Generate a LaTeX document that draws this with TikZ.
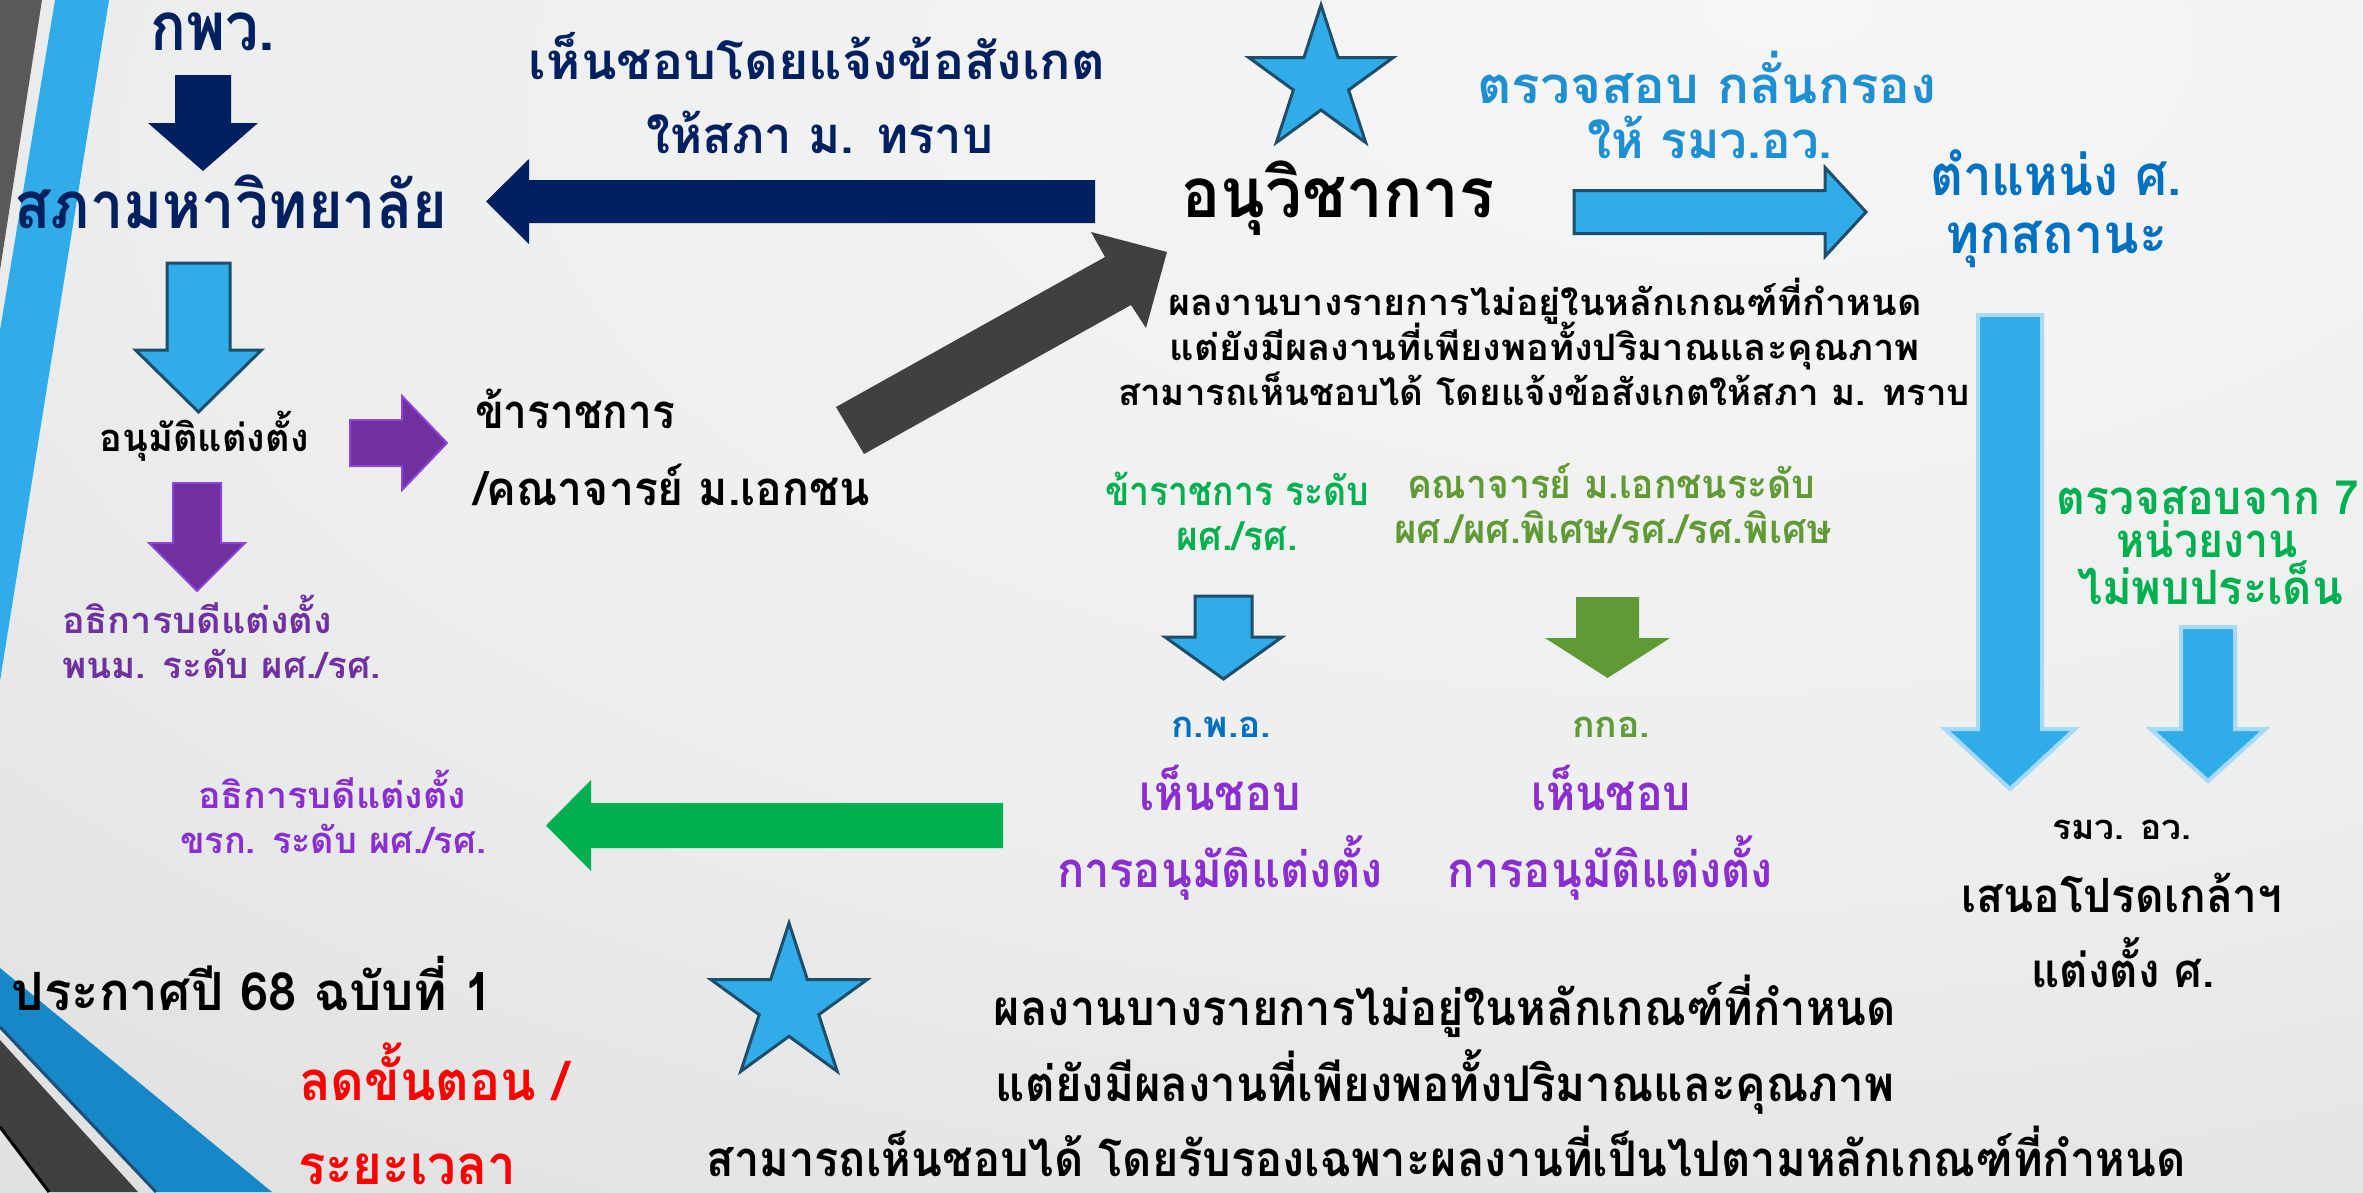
\documentclass[tikz,border=0pt]{standalone}
\usepackage{fontspec}
\setmainfont{Loma}[Script=Thai]
\usepackage{graphicx}
\usetikzlibrary{shapes.geometric}
\definecolor{navy}{HTML}{002060}
\definecolor{arrowblue}{HTML}{30ACE8}
\definecolor{arrowedge}{HTML}{1F4E6B}
\definecolor{arrowglow}{HTML}{A8D9F6}
\definecolor{blue1}{HTML}{0070C0}
\definecolor{blue2}{HTML}{1E8FD0}
\definecolor{greenA}{HTML}{00B050}
\definecolor{oliveA}{HTML}{5F9A34}
\definecolor{purple1}{HTML}{7030A0}
\definecolor{purple2}{HTML}{8A2ECF}
\definecolor{purpleedge}{HTML}{8E44DA}
\definecolor{darkg}{HTML}{404040}
\definecolor{bandgray}{HTML}{595959}
\definecolor{bandblue}{HTML}{1787C8}
\definecolor{bandline}{HTML}{1F4E79}
\definecolor{bgA}{HTML}{F6F6F6}
\definecolor{bgB}{HTML}{EDEEEE}
\definecolor{bgC}{HTML}{D8DADB}
\definecolor{bgD}{HTML}{BCC0C2}
\pgfdeclareradialshading{bgshade}{\pgfpoint{13bp}{25bp}}{color(0bp)=(bgA); color(30bp)=(bgB); color(62bp)=(bgC); color(100bp)=(bgD); color(130bp)=(bgD)}
\def\bodyratio{0.55}
\newcommand\thtxt[3]{{\fontsize{\fpeval{#2/\bodyratio}}{\fpeval{#2/\bodyratio*1.2}}\selectfont\resizebox{#1pt}{\height}{#3}}}
\newcommand\darr[7]{\path[#1] ({#2-#3},#4) -- ({#2+#3},#4) -- ({#2+#3},#5) -- ({#2+#6},#5) -- (#2,#7) -- ({#2-#6},#5) -- ({#2-#3},#5) -- cycle;}
\newcommand\harr[7]{\path[#1] (#2,#3) -- (#4,{#3-#5}) -- (#4,{#3-#6}) -- (#7,{#3-#6}) -- (#7,{#3+#6}) -- (#4,{#3+#6}) -- (#4,{#3+#5}) -- cycle;}
\tikzset{
  tx/.style={inner sep=0pt, outer sep=0pt, anchor=base, font=\bfseries},
  txl/.style={tx, anchor=base west},
  blk/.style={fill=arrowblue, draw=arrowedge, line width=3pt},
  blkl/.style={fill=arrowblue, draw=arrowglow, line width=4pt},
  purp/.style={fill=purple1, draw=purpleedge, line width=2pt},
  starsh/.style={star, star points=5, star point ratio=2.618, inner sep=0pt, fill=arrowblue, draw=arrowedge, line width=3pt}
}
\begin{document}
\begin{tikzpicture}[x=1pt,y=-1pt]
\useasboundingbox (0,0) rectangle (2363,1192);
\shade[shading=bgshade] (0,0) rectangle (2363,1192);
% left decorations
\fill[bandgray] (0,0) -- (42,0) -- (0,270) -- cycle;
\fill[arrowblue] (55,0) -- (109,0) -- (0,681) -- (0,330) -- cycle;
\fill[bandblue] (0,968) -- (272,1192) -- (156,1192) -- (0,1027) -- cycle;
\draw[bandline, line width=3pt] (0,1027) -- (156,1192);
\fill[darkg] (0,1040) -- (138,1192) -- (49,1192) -- (0,1127) -- cycle;
\draw[black, line width=3pt] (0,1127) -- (49,1192);
% arrows
\darr{fill=navy}{203}{28}{75}{123}{55}{171}
\darr{blk}{198.5}{31.5}{263}{350}{63}{412}
\darr{purp}{197}{24}{483}{543}{48}{591}
\darr{blkl}{2010}{32}{315}{729}{65}{789}
\darr{blkl}{2208}{27}{627}{729}{57.5}{781}
\darr{blk}{1223.5}{28.5}{596}{637}{58.5}{679}
\darr{fill=oliveA}{1607.5}{31.5}{597}{638}{62.5}{678}
\harr{fill=navy}{486}{201.5}{529}{42.5}{21.5}{1095}
\harr{purp}{447}{443}{402}{47}{23}{350}
\harr{blk}{1866}{212}{1825}{44.5}{21.5}{1574}
\harr{fill=greenA}{546}{825.5}{591}{45.5}{22.5}{1003}
\fill[darkg] (836,407) -- (1105,257) -- (1091,232) -- (1167,252) -- (1146,328) -- (1131,305) -- (864,454) -- cycle;
% stars
\node[starsh, minimum size=152pt] (star1) at (1321,81) {};
\node[starsh, minimum size=164pt] (star2) at (789,1005) {};
% texts
\node[tx, text=navy] (t1) at (213,50) {\thtxt{125}{37}{กพว.}};
\node[tx, text=navy] (t2) at (231,228) {\thtxt{433}{36}{สภามหาวิทยาลัย}};
\node[tx, text=navy] (t3a) at (817,79) {\thtxt{576}{28}{เห็นชอบโดยแจ้งข้อสังเกต}};
\node[tx, text=navy] (t3b) at (820,153) {\thtxt{347}{28}{ให้สภา ม. ทราบ}};
\node[tx] (t4) at (1338,217) {\thtxt{313}{38}{อนุวิชาการ}};
\node[tx, text=blue2] (t5a) at (1707,103) {\thtxt{459}{28}{ตรวจสอบ กลั่นกรอง}};
\node[tx, text=blue2] (t5b) at (1710,158) {\thtxt{245}{28}{ให้ รมว.อว.}};
\node[tx, text=blue1] (t6a) at (2056,195) {\thtxt{252}{31}{ตำแหน่ง ศ.}};
\node[tx, text=blue1] (t6b) at (2056,253) {\thtxt{222}{30}{ทุกสถานะ}};
\node[tx] (t7a) at (1545,315) {\thtxt{753}{20}{ผลงานบางรายการไม่อยู่ในหลักเกณฑ์ที่กำหนด}};
\node[tx] (t7b) at (1545,360) {\thtxt{750}{20}{แต่ยังมีผลงานที่เพียงพอทั้งปริมาณและคุณภาพ}};
\node[tx] (t7c) at (1544,405) {\thtxt{852}{20}{สามารถเห็นชอบได้ โดยแจ้งข้อสังเกตให้สภา ม. ทราบ}};
\node[tx, text=greenA] (t8a) at (1237,505) {\thtxt{264}{22}{ข้าราชการ ระดับ}};
\node[tx, text=greenA] (t8b) at (1237,550) {\thtxt{121}{22}{ผศ./รศ.}};
\node[tx, text=oliveA] (t9a) at (1611,498) {\thtxt{408}{22}{คณาจารย์ ม.เอกชนระดับ}};
\node[tx, text=oliveA] (t9b) at (1613,543) {\thtxt{438}{22}{ผศ./ผศ.พิเศษ/รศ./รศ.พิเศษ}};
\node[tx, text=blue1] (t10) at (1221,737) {\thtxt{100}{20}{ก.พ.อ.}};
\node[tx, text=oliveA] (t11) at (1611,737) {\thtxt{78}{20}{กกอ.}};
\node[tx, text=purple2] (t12a) at (1220,810) {\thtxt{161}{27}{เห็นชอบ}};
\node[tx, text=purple2] (t12b) at (1611,810) {\thtxt{160}{27}{เห็นชอบ}};
\node[tx, text=purple2] (t13a) at (1220,887) {\thtxt{326}{27}{การอนุมัติแต่งตั้ง}};
\node[tx, text=purple2] (t13b) at (1610,887) {\thtxt{326}{27}{การอนุมัติแต่งตั้ง}};
\node[tx] (t14) at (204,451) {\thtxt{209}{21}{อนุมัติแต่งตั้ง}};
\node[txl] (t15) at (475,428) {\thtxt{200}{26}{ข้าราชการ}};
\node[txl] (t16) at (474,505) {\thtxt{396}{26}{/คณาจารย์ ม.เอกชน}};
\node[txl, text=purple1] (t17a) at (62,633) {\thtxt{270}{20}{อธิการบดีแต่งตั้ง}};
\node[txl, text=purple1] (t17b) at (62,678) {\thtxt{319}{20}{พนม. ระดับ ผศ./รศ.}};
\node[tx, text=purple2] (t18a) at (332,808) {\thtxt{268}{20}{อธิการบดีแต่งตั้ง}};
\node[tx, text=purple2] (t18b) at (333,853) {\thtxt{306}{20}{ขรก. ระดับ ผศ./รศ.}};
\node[txl] (t19) at (12,1010) {\thtxt{481}{29}{ประกาศปี 68 ฉบับที่ 1}};
\node[txl, text=red] (t20a) at (299,1100) {\thtxt{270}{30}{ลดขั้นตอน /}};
\node[txl, text=red] (t20b) at (298,1184) {\thtxt{218}{30}{ระยะเวลา}};
\node[tx] (t21a) at (1445,1025) {\thtxt{902}{27}{ผลงานบางรายการไม่อยู่ในหลักเกณฑ์ที่กำหนด}};
\node[tx] (t21b) at (1445,1101) {\thtxt{898}{27}{แต่ยังมีผลงานที่เพียงพอทั้งปริมาณและคุณภาพ}};
\node[tx] (t21c) at (1446,1176) {\thtxt{1479}{27}{สามารถเห็นชอบได้ โดยรับรองเฉพาะผลงานที่เป็นไปตามหลักเกณฑ์ที่กำหนด}};
\node[tx, text=greenA] (t22a) at (2208,514) {\thtxt{303}{26}{ตรวจสอบจาก 7}};
\node[tx, text=greenA] (t22b) at (2207,557) {\thtxt{181}{26}{หน่วยงาน}};
\node[tx, text=greenA] (t22c) at (2210,604) {\thtxt{266}{26}{ไม่พบประเด็น}};
\node[tx] (t23a) at (2122,839) {\thtxt{139}{19}{รมว. อว.}};
\node[tx] (t23b) at (2122,912) {\thtxt{321}{26}{เสนอโปรดเกล้าฯ}};
\node[tx] (t23c) at (2123,987) {\thtxt{183}{26}{แต่งตั้ง ศ.}};
\end{tikzpicture}
\end{document}
